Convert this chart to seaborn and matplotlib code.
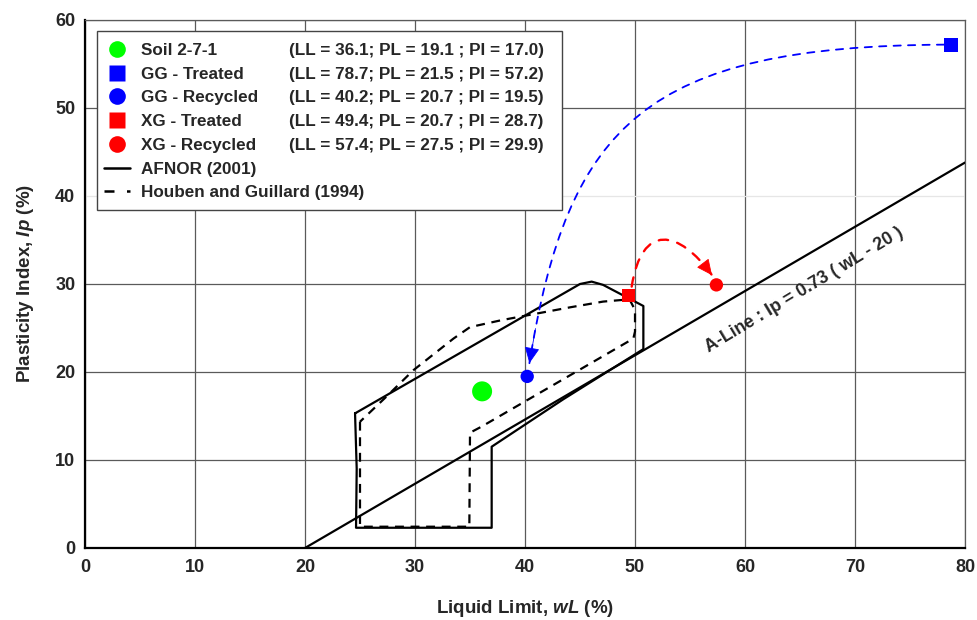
import matplotlib
matplotlib.use("Agg")
import matplotlib.pyplot as plt
import seaborn as sns
import numpy as np
from matplotlib.lines import Line2D
from matplotlib.patches import Rectangle, FancyArrowPatch
from matplotlib.path import Path

# ---------------- data ----------------
sample_names = ["Soil 2-7-1", "GG - Treated", "GG - Recycled", "XG - Treated", "XG - Recycled"]
sample_ll = [36.1, 78.7, 40.2, 49.4, 57.4]
sample_ip = [17.8, 57.2, 19.5, 28.7, 29.9]
sample_info = [
    "(LL = 36.1; PL = 19.1 ; PI = 17.0)",
    "(LL = 78.7; PL = 21.5 ; PI = 57.2)",
    "(LL = 40.2; PL = 20.7 ; PI = 19.5)",
    "(LL = 49.4; PL = 20.7 ; PI = 28.7)",
    "(LL = 57.4; PL = 27.5 ; PI = 29.9)",
]

afnor_wl = [24.55, 24.7, 24.64, 36.97, 36.97, 43.48, 50.76, 50.76, 50.0, 47.1, 46.06, 45.0, 24.55]
afnor_ip = [15.30, 9.0, 2.30, 2.30, 11.51, 16.9, 22.6, 27.5, 28.0, 29.9, 30.27, 30.0, 15.30]

houben_wl = [25.0, 25.0, 34.94, 35.0, 36.06, 49.85, 50.0, 50.0, 49.5, 47.1, 44.1, 37.9, 35.0, 33.5, 29.85, 27.4, 25.0]
houben_ip = [14.35, 2.42, 2.42, 13.1, 13.8, 23.8, 24.6, 27.05, 28.26, 28.0, 27.35, 25.9, 25.1, 23.8, 20.2, 17.2, 14.35]

aline_wl = [20, 80]
aline_ip = [0, 43.8]

x_ticks = [0, 10, 20, 30, 40, 50, 60, 70, 80]
y_ticks = [0, 10, 20, 30, 40, 50, 60]

# ---------------- style ----------------
sns.set_theme(style="white")
plt.rcParams["font.family"] = ["Liberation Sans", "DejaVu Sans"]
plt.rcParams["font.weight"] = "bold"
plt.rcParams["mathtext.fontset"] = "custom"
plt.rcParams["mathtext.it"] = "Liberation Sans:italic:bold"
plt.rcParams["mathtext.rm"] = "Liberation Sans:bold"
plt.rcParams["mathtext.bf"] = "Liberation Sans:bold"

colors = ["#00ff00", "#0000ff", "#0000ff", "#ff0000", "#ff0000"]
markers = ["o", "s", "o", "s", "o"]
msizes = [14.4, 10.0, 9.6, 9.6, 9.6]
dash = (0, (4, 3))

fig = plt.figure(figsize=(9.78, 6.2), dpi=100)
ax = fig.add_axes([85 / 978, 72 / 620, 880 / 978, 528 / 620])

# polygons and A-line
sns.lineplot(x=afnor_wl, y=afnor_ip, sort=False, estimator=None, color="black",
             lw=1.6, ax=ax, zorder=3)
sns.lineplot(x=houben_wl, y=houben_ip, sort=False, estimator=None, color="black",
             lw=1.6, linestyle=dash, ax=ax, zorder=3)
sns.lineplot(x=aline_wl, y=aline_ip, sort=False, estimator=None, color="black",
             lw=1.6, ax=ax, zorder=3)

# points
for i in range(len(sample_names)):
    sns.scatterplot(x=[sample_ll[i]], y=[sample_ip[i]], marker=markers[i],
                    s=msizes[i] ** 2, color=colors[i], edgecolor="none",
                    linewidth=0, ax=ax, zorder=6, legend=False)


def curved_arrow(i_from, i_to, start_off, end_off, c1_off, c2_off, color, lw):
    sx, sy = sample_ll[i_from] + start_off[0], sample_ip[i_from] + start_off[1]
    ex, ey = sample_ll[i_to] + end_off[0], sample_ip[i_to] + end_off[1]
    p0 = np.array([sx, sy])
    p1 = np.array([sx + c1_off[0], sy + c1_off[1]])
    p2 = np.array([ex + c2_off[0], ey + c2_off[1]])
    p3 = np.array([ex, ey])
    t = 0.95
    pt = ((1 - t) ** 3) * p0 + 3 * ((1 - t) ** 2) * t * p1 + 3 * (1 - t) * t * t * p2 + t ** 3 * p3
    codes = [Path.MOVETO, Path.CURVE4, Path.CURVE4, Path.CURVE4]
    body = FancyArrowPatch(path=Path([p0, p1, p2, p3], codes), arrowstyle="-",
                           color=color, lw=lw, linestyle=(0, (4, 4)),
                           transform=ax.transData, zorder=5)
    ax.add_patch(body)
    head = FancyArrowPatch(posA=tuple(pt), posB=tuple(p3),
                           arrowstyle="-|>,head_length=1.0,head_width=0.47",
                           mutation_scale=10, color=color, lw=0.6,
                           shrinkA=0, shrinkB=0, transform=ax.transData, zorder=5)
    ax.add_patch(head)


# GG treated -> GG recycled
dxg = (sample_ll[1] - 0.6) - (sample_ll[2] + 0.2)
dyg = sample_ip[1] - (sample_ip[2] + 1.5)
curved_arrow(1, 2, (-0.6, 0.0), (0.2, 1.5), (-0.72 * dxg, -0.2), (3.5, 0.75 * dyg),
             "#0000ff", 1.3)
# XG treated -> XG recycled
curved_arrow(3, 4, (0.3, 1.0), (-0.4, 1.1), (0.9, 7.3), (-3.0, 5.2), "#ff0000", 1.7)

# A-line label
ax.text(65.4, 29.3, "A-Line : Ip = 0.73 ( wL - 20 )", rotation=31,
        rotation_mode="anchor", ha="center", va="center", fontsize=12.8,
        fontweight="bold", zorder=4)

# axes
ax.set_xlim(0, 80)
ax.set_ylim(0, 60)
ax.set_xticks(x_ticks)
ax.set_yticks(y_ticks)
ax.set_xticklabels([str(t) for t in x_ticks])
ax.set_yticklabels([str(t) for t in y_ticks])
ax.tick_params(axis="both", length=0, labelsize=13)
ax.tick_params(axis="x", pad=8)
ax.tick_params(axis="y", pad=7)
for lab in ax.get_xticklabels() + ax.get_yticklabels():
    lab.set_fontweight("bold")
ax.grid(True, color="#5a5a5a", lw=0.9, zorder=0)
ax.set_axisbelow(True)
ax.yaxis.get_gridlines()[4].set_color("#e6e6e6")

ax.set_xlabel(r"Liquid Limit, $\mathit{wL}$ (%)", fontsize=13.5, fontweight="bold", labelpad=16)
ax.set_ylabel(r"Plasticity Index, $\mathit{Ip}$ (%)", fontsize=13.5, fontweight="bold", labelpad=14)

for side in ["left", "bottom"]:
    ax.spines[side].set_color("black")
    ax.spines[side].set_linewidth(1.6)
for side in ["top", "right"]:
    ax.spines[side].set_color("#5a5a5a")
    ax.spines[side].set_linewidth(0.9)

# legend
handles = []
for i in range(len(sample_names)):
    handles.append(Line2D([], [], ls="none", marker=markers[i], markersize=12,
                          markerfacecolor=colors[i], markeredgecolor="none"))
handles.append(Line2D([], [], color="black", lw=1.8))
handles.append(Line2D([], [], color="black", lw=1.8, ls=(0, (4, 5))))
labels = sample_names + ["AFNOR (2001)", "Houben and Guillard (1994)"]

box_x0, box_x1 = 12 / 880, 477 / 880
box_y0, box_y1 = (548 - 210) / 528, (548 - 31) / 528
ax.add_patch(Rectangle((box_x0, box_y0), box_x1 - box_x0, box_y1 - box_y0,
                       transform=ax.transAxes, facecolor="white", edgecolor="#444444",
                       lw=1.0, zorder=7))
leg = ax.legend(handles, labels, loc="upper left", bbox_to_anchor=(7 / 880, box_y1),
                borderaxespad=0, borderpad=0.7, handlelength=1.5, handletextpad=0.65,
                labelspacing=0.51, frameon=False, prop={"size": 12.3, "weight": "bold"})
leg.set_zorder(8)

fig.canvas.draw()
inv = ax.transAxes.inverted()
for i, t in enumerate(leg.get_texts()[:5]):
    bb = t.get_window_extent()
    yc = inv.transform((0, (bb.y0 + bb.y1) / 2))[1]
    ax.text(204 / 880, yc, sample_info[i], transform=ax.transAxes, ha="left",
            va="center", fontsize=12.3, fontweight="bold", zorder=9)

fig.savefig("out.png", dpi=100)
